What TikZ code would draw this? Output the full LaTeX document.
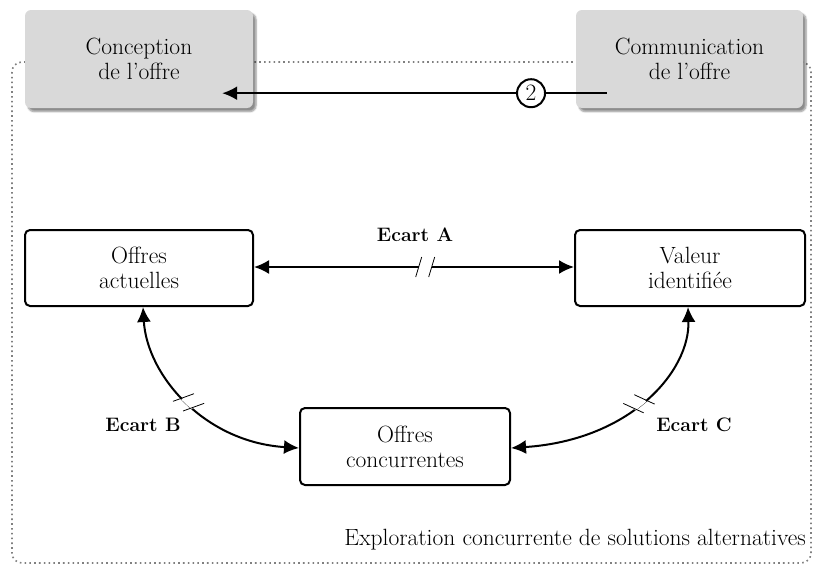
\documentclass[tikz,border=0pt]{standalone}
\usetikzlibrary{arrows.meta,calc,shadows.blur,decorations.markings}
\begin{document}
\begin{tikzpicture}[x=1pt,y=-1pt,
  font=\fontsize{23.5}{25}\selectfont,
  tip/.tip={Latex[length=15pt,width=14pt]},
  graybox/.style={fill=black!15, rounded corners=6pt, align=center, inner sep=0pt,
    blur shadow={shadow xshift=3pt, shadow yshift=-3.5pt, shadow blur steps=6, shadow opacity=45}},
  whitebox/.style={draw, line width=2pt, fill=white, rounded corners=5pt, align=center, inner sep=0pt},
  conn/.style={line width=2pt, tip-tip},
  lab/.style={font=\fontsize{19.5}{24}\selectfont\bfseries},
  gapA/.style={postaction={decorate, decoration={markings, mark=at position #1 with {
      \fill[white] (-6.5pt,-3pt) rectangle (6.5pt,3pt);
      \draw[arrows=-, line width=0.8pt] (-9.5pt,-10pt) -- (-3.5pt,10pt);
      \draw[arrows=-, line width=0.8pt] (3.5pt,-10pt) -- (9.5pt,10pt);}}}},
  gapC/.style={postaction={decorate, decoration={markings, mark=at position #1 with {
      \fill[white] (-7pt,-3pt) rectangle (7pt,3pt);
      \draw[arrows=-, line width=0.8pt] (-12pt,10pt) -- (-2pt,-10pt);
      \draw[arrows=-, line width=0.8pt] (2pt,10pt) -- (12pt,-10pt);}}}},
  gapB/.style={postaction={decorate, decoration={markings, mark=at position #1 with {
      \fill[white] (-7pt,-3pt) rectangle (7pt,3pt);
      \draw[arrows=-, line width=0.8pt] (-12pt,-10pt) -- (-2pt,10pt);
      \draw[arrows=-, line width=0.8pt] (2pt,-10pt) -- (12pt,10pt);}}}}
]
\useasboundingbox (0,0) rectangle (815,565);
% dotted frame
\draw[black!50, line width=1.6pt, dash pattern=on 1.6pt off 3.2pt, rounded corners=10pt] (12,62) rectangle (811,563);
% top gray boxes
\node[graybox, minimum width=228pt, minimum height=98pt] (co) at (139,59) {Conception\\de l'offre};
\node[graybox, minimum width=227pt, minimum height=98pt] (cm) at (689.5,59) {Communication\\de l'offre};
% top arrow
\coordinate (ts) at ($(cm.south west)+(31,-15)$);
\coordinate (te) at ($(co.south east)+(-31,-15)$);
\draw[line width=2pt, -tip] (ts) -- node[pos=0.197, circle, draw, fill=white, line width=2pt, inner sep=0.5pt, minimum size=28pt] (two) {2} (te);
% white boxes
\node[whitebox, minimum width=228pt, minimum height=76pt] (oa) at (139,268) {Offres\\actuelles};
\node[whitebox, minimum width=230pt, minimum height=76pt] (vi) at (690,268) {Valeur\\identifi\'ee};
\node[whitebox, minimum width=210pt, minimum height=77pt] (oc) at (405,446.5) {Offres\\concurrentes};
% Ecart A
\draw[conn, gapA=0.535] ($(oa.east)+(0,-1)$) -- ($(vi.west)+(0,-1)$);
\node[lab] (ea) at (415,235) {Ecart A};
% Ecart B
\coordinate (bs) at ($(oa.south)+(4,0)$);
\coordinate (be) at ($(oc.west)+(0,1.5)$);
\draw[conn, gapB=0.47] (bs) .. controls ($(bs)+(4,68)$) and ($(be)+(-95,-6)$) .. (be);
\node[lab] (eb) at (143,425) {Ecart B};
% Ecart C
\coordinate (cs) at ($(vi.south)+(-2,0)$);
\coordinate (ce) at ($(oc.east)+(0,1.5)$);
\draw[conn, gapC=0.45] (cs) .. controls ($(cs)+(2,64)$) and ($(ce)+(120,-8)$) .. (ce);
\node[lab] (ec) at (694,425) {Ecart C};
% caption
\node[anchor=east, inner sep=0pt] (cap) at (806,540) {Exploration concurrente de solutions alternatives};
\end{tikzpicture}
\end{document}
